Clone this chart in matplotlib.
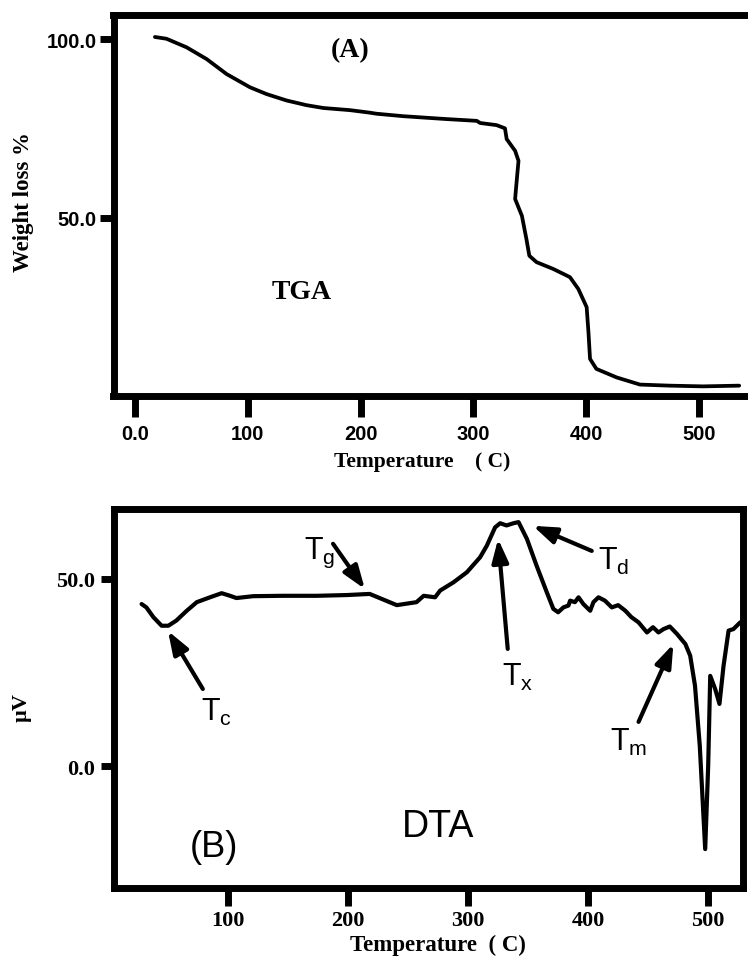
import matplotlib
matplotlib.use("Agg")
import matplotlib.pyplot as plt

# TGA curve (A): temperature (C) vs weight %
tga_temp = [17.7, 28, 45.8, 63.6, 81.3, 102, 116.7, 134.5, 152, 167, 190.6, 208,
            214, 238, 276, 303, 306, 320.6, 328, 329.5, 337, 340, 338, 337, 343,
            347, 349.6, 356, 370.8, 385.6, 393, 400.4, 402, 403.4, 409, 427,
            447.7, 474, 503.5, 535.6]
tga_weight = [100.6, 100.1, 97.7, 94.4, 90.2, 86.5, 84.6, 82.8, 81.5, 80.7, 80.1,
              79.4, 79.1, 78.4, 77.6, 77.1, 76.5, 75.9, 75.0, 72.0, 68.7, 65.9,
              58.9, 55.2, 50.5, 44.0, 39.3, 37.5, 35.6, 33.3, 30.0, 24.9, 17.9,
              10.4, 7.6, 5.2, 3.2, 2.9, 2.7, 2.9]

# DTA curve (B): temperature (C) vs signal (uV)
dta_temp = [28, 32, 37.8, 44.7, 50.3, 57, 65.6, 74, 85, 94.7, 101.7, 107, 121,
            146, 174, 199, 218, 240.6, 257, 263, 272.5, 276.7, 287.8, 299, 310,
            315.6, 322.5, 326.7, 332, 337.8, 342, 349, 357, 365.6, 371, 375,
            379.4, 383.6, 385, 389, 392, 396, 401.7, 404.4, 408.6, 414, 419.7,
            425, 431, 436, 442, 449, 454, 458.6, 462.8, 468, 474, 481, 485, 489,
            493, 497.5, 500, 501.7, 505.8, 509.4, 512.8, 517, 521, 526.7]
dta_signal = [43.3, 42.4, 39.8, 37.5, 37.5, 38.9, 41.5, 43.8, 45.1, 46.2, 45.5,
              44.9, 45.4, 45.5, 45.5, 45.7, 46.0, 43.0, 43.8, 45.5, 45.1, 46.9,
              49.1, 51.8, 55.8, 58.9, 63.8, 64.9, 64.3, 64.9, 65.2, 60.7, 53.6,
              46.4, 42.0, 41.1, 42.4, 42.9, 44.2, 43.8, 45.1, 43.3, 41.5, 43.8,
              45.1, 44.2, 42.4, 43.0, 41.5, 39.8, 38.4, 35.7, 37.1, 35.7, 36.6,
              37.3, 35.3, 32.6, 29.5, 21.5, 5.4, -22.2, 0.1, 24.1, 20.6, 16.6,
              26.8, 36.2, 36.6, 38.4]

tga_xticks = [0, 100, 200, 300, 400, 500]
tga_xlabels = ["0.0", "100", "200", "300", "400", "500"]
tga_yticks = [50, 100]
tga_ylabels = ["50.0", "100.0"]
dta_xticks = [100, 200, 300, 400, 500]
dta_xlabels = ["100", "200", "300", "400", "500"]
dta_yticks = [0, 50]
dta_ylabels = ["0.0", "50.0"]

# (label, text position, arrow tail, arrow tip) in data units
dta_marks = [
    (r"$\mathrm{T_c}$", (90, 14.7), (79, 20.6), (50, 36.1)),
    (r"$\mathrm{T_g}$", (176.7, 57.2), (187.5, 59.4), (214, 47.3)),
    (r"$\mathrm{T_x}$", (341.7, 24.0), (333, 31.3), (325, 60.7)),
    (r"$\mathrm{T_d}$", (421, 55.0), (403, 57.5), (354, 64.2)),
    (r"$\mathrm{T_m}$", (434, 6.7), (442, 11.8), (471, 32.6)),
]

SERIF = "Liberation Serif"
SANS = "Liberation Sans"
plt.rcParams["mathtext.fontset"] = "custom"
plt.rcParams["mathtext.rm"] = SANS
plt.rcParams["mathtext.it"] = SANS + ":italic"
plt.rcParams["mathtext.bf"] = SANS + ":bold"

W, H = 748, 970
fig = plt.figure(figsize=(W / 100, H / 100), dpi=100)

# ---- (A) TGA ----
ax1 = fig.add_axes([113.5 / W, 573 / H, 653.2 / W, 381.5 / H])
ax1.plot(tga_temp, tga_weight, color="black", lw=2.7, solid_capstyle="round",
         solid_joinstyle="round")
ax1.set_xlim(-19, 560)
ax1.set_ylim(0, 106.9)
ax1.spines["right"].set_visible(False)
for s in ("left", "bottom", "top"):
    ax1.spines[s].set_linewidth(5)
ax1.set_xticks(tga_xticks, tga_xlabels, fontfamily=SANS, fontweight="bold", fontsize=14.5)
ax1.set_yticks(tga_yticks, tga_ylabels, fontfamily=SANS, fontweight="bold", fontsize=14.5)
ax1.tick_params(axis="x", direction="out", length=15, width=5, pad=5)
ax1.tick_params(axis="y", direction="out", length=10, width=5, pad=2)
ax1.set_xlabel("Temperature    ( C)", fontfamily=SERIF, fontweight="bold", fontsize=15.5)
ax1.xaxis.set_label_coords(0.472, -0.170)
ax1.xaxis.label.set_va("center")
ax1.set_ylabel("Weight loss %", fontfamily=SERIF, fontweight="bold", fontsize=16.5)
ax1.yaxis.set_label_coords(-0.1385, 0.511)
ax1.yaxis.label.set_va("center")
ax1.text(190.6, 97.2, "(A)", fontfamily=SERIF, fontweight="bold", fontsize=20,
         ha="center", va="center")
ax1.text(148, 29.4, "TGA", fontfamily=SERIF, fontweight="bold", fontsize=20,
         ha="center", va="center")

# ---- (B) DTA ----
ax2 = fig.add_axes([113.5 / W, 81 / H, 629.5 / W, 379 / H])
ax2.plot(dta_temp, dta_signal, color="black", lw=3, solid_joinstyle="round",
         solid_capstyle="round")
ax2.set_xlim(4.6, 529)
ax2.set_ylim(-32.6, 68.7)
for s in ax2.spines.values():
    s.set_linewidth(5)
ax2.set_xticks(dta_xticks, dta_xlabels, fontfamily=SERIF, fontweight="bold", fontsize=16)
ax2.set_yticks(dta_yticks, dta_ylabels, fontfamily=SERIF, fontweight="bold", fontsize=16)
ax2.tick_params(axis="x", direction="out", length=13, width=5, pad=3)
ax2.tick_params(axis="y", direction="out", length=9.5, width=5, pad=4)
ax2.set_xlabel("Temperature  ( C)", fontfamily=SERIF, fontweight="bold", fontsize=16.5)
ax2.xaxis.set_label_coords(0.5155, -0.150)
ax2.xaxis.label.set_va("center")
ax2.set_ylabel("\u00b5V", fontfamily=SERIF, fontweight="bold", fontsize=16)
ax2.yaxis.set_label_coords(-0.1454, 0.480)
ax2.yaxis.label.set_va("center")
ax2.text(88.3, -21.4, "(B)", fontfamily=SANS, fontsize=26, ha="center", va="center")
ax2.text(275, -16, "DTA", fontfamily=SANS, fontsize=27, ha="center", va="center")

for label, pos, tail, tip in dta_marks:
    ax2.annotate("", xy=tip, xytext=tail,
                 arrowprops=dict(arrowstyle="-|>,head_length=0.7,head_width=0.25",
                                 lw=3, color="black", shrinkA=0, shrinkB=0,
                                 mutation_scale=20))
    ax2.text(pos[0], pos[1], label, fontsize=22, ha="center", va="center")

fig.savefig("out.png", dpi=100)
